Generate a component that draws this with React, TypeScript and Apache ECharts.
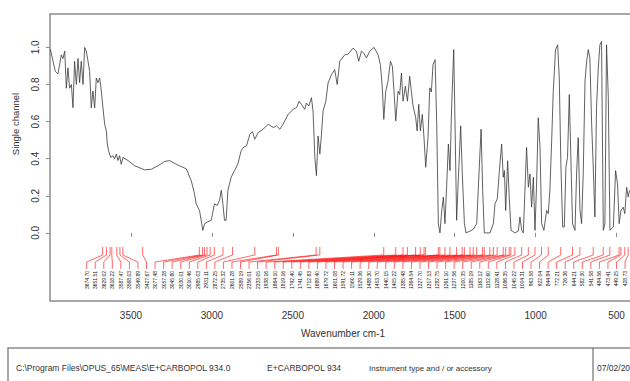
import React, { useEffect, useRef } from "react";
import * as echarts from "echarts";

// Single-channel spectrum, wavenumber (cm-1) and intensity
const spectrumWavenumbers = [
  3998, 3981, 3967, 3951, 3940, 3930, 3920, 3909, 3899, 3889, 3879, 3868, 3858, 3848, 3837, 3827,
  3817, 3807, 3796, 3786, 3776, 3765, 3755, 3745, 3735, 3724, 3714, 3704, 3693, 3683, 3673, 3662,
  3652, 3646, 3638, 3625, 3611, 3601, 3590, 3580, 3570, 3560, 3549, 3518, 3477, 3416, 3374, 3333,
  3292, 3261, 3230, 3200, 3179, 3158, 3127, 3107, 3097, 3076, 3056, 3045, 3025, 3004, 2984, 2967,
  2953, 2942, 2932, 2922, 2912, 2901, 2881, 2860, 2840, 2827, 2819, 2807, 2786, 2765, 2749, 2735,
  2714, 2683, 2652, 2621, 2601, 2580, 2560, 2529, 2498, 2477, 2461, 2447, 2426, 2416, 2401, 2385,
  2375, 2364, 2354, 2344, 2333, 2323, 2313, 2296, 2282, 2261, 2241, 2226, 2210, 2179, 2158, 2128,
  2107, 2093, 2076, 2062, 2045, 2025, 1998, 1973, 1959, 1947, 1938, 1926, 1912, 1897, 1885, 1875,
  1864, 1850, 1840, 1829, 1819, 1805, 1792, 1778, 1768, 1757, 1741, 1732, 1722, 1712, 1700, 1689,
  1679, 1665, 1654, 1644, 1634, 1621, 1611, 1601, 1591, 1580, 1570, 1560, 1549, 1539, 1529, 1519,
  1506, 1498, 1488, 1477, 1463, 1453, 1440, 1430, 1405, 1385, 1364, 1350, 1337, 1327, 1317, 1282,
  1261, 1251, 1237, 1224, 1210, 1200, 1193, 1185, 1173, 1163, 1152, 1128, 1107, 1097, 1086, 1076,
  1066, 1056, 1045, 1035, 1025, 1014, 1004, 994, 984, 973, 963, 949, 932, 922, 912, 901,
  891, 877, 864, 854, 844, 833, 823, 813, 803, 792, 782, 772, 757, 747, 737, 726,
  716, 706, 695, 685, 675, 665, 654, 644, 634, 624, 613, 603, 593, 582, 572, 562,
  551, 541, 520, 506, 494, 484, 473, 459, 449, 438, 428, 420,
];

const spectrumValues = [
  0.99, 0.925, 0.87, 0.857, 0.91, 0.96, 0.94, 0.98, 0.78, 0.89, 0.78, 0.8, 0.675, 0.925, 0.8, 0.94,
  0.81, 0.925, 0.8, 1.0, 0.98, 0.925, 0.87, 0.675, 0.765, 0.675, 0.835, 0.81, 0.835, 0.765, 0.675, 0.585,
  0.55, 0.48, 0.443, 0.407, 0.416, 0.4, 0.425, 0.39, 0.416, 0.37, 0.407, 0.39, 0.362, 0.34, 0.343, 0.362,
  0.385, 0.39, 0.375, 0.362, 0.354, 0.345, 0.28, 0.21, 0.157, 0.12, 0.014, 0.05, 0.06, 0.068, 0.157, 0.148,
  0.175, 0.23, 0.157, 0.068, 0.068, 0.23, 0.3, 0.336, 0.37, 0.416, 0.443, 0.46, 0.47, 0.532, 0.546, 0.505,
  0.541, 0.559, 0.586, 0.568, 0.577, 0.559, 0.586, 0.639, 0.666, 0.675, 0.71, 0.693, 0.666, 0.7, 0.684, 0.729,
  0.657, 0.407, 0.309, 0.523, 0.425, 0.532, 0.657, 0.71, 0.809, 0.854, 0.88, 0.8, 0.925, 0.96, 0.964, 0.996,
  0.979, 0.925, 0.979, 0.97, 0.943, 0.979, 1.0, 0.96, 0.907, 0.782, 0.612, 0.764, 0.818, 0.925, 0.898, 0.764,
  0.604, 0.764, 0.746, 0.862, 0.71, 0.791, 0.71, 0.845, 0.764, 0.684, 0.621, 0.55, 0.693, 0.55, 0.639, 0.505,
  0.354, 0.514, 0.782, 0.76, 0.907, 0.934, 0.586, 0.05, 0.0, 0.121, 0.193, 0.05, 0.264, 0.479, 0.336, 0.675,
  0.988, 0.586, 0.068, 0.3, 0.577, 0.318, 0.05, 0.0, 0.01, 0.02, 0.05, 0.318, 0.559, 0.229, 0.0, 0.0,
  0.05, 0.157, 0.184, 0.336, 0.479, 0.3, 0.336, 0.121, 0.389, 0.193, 0.014, 0.0, 0.01, 0.086, 0.014, 0.0,
  0.229, 0.461, 0.246, 0.318, 0.139, 0.3, 0.014, 0.264, 0.621, 0.461, 0.05, 0.014, 0.121, 0.104, 0.229, 0.496,
  0.764, 0.988, 1.014, 0.836, 0.371, 0.032, 0.032, 0.354, 0.407, 0.746, 0.389, 0.05, 0.014, 0.318, 0.514, 0.121,
  0.05, 0.318, 0.818, 0.925, 0.988, 0.943, 0.586, 0.354, 0.086, 0.675, 0.889, 1.014, 1.032, 0.014, 0.05, 1.014,
  0.729, 0.014, 0.032, 0.336, 0.264, 0.05, 0.121, 0.139, 0.104, 0.246, 0.193, 0.229,
];

// Picked peak positions (cm-1), labelled below the trace
const peakWavenumbers = [
  3674.7, 3651.51, 3629.02, 3618.22, 3587.47, 3568.03, 3549.89, 3427.67,
  3077.48, 3057.28, 3045.8, 3030.01, 3010.46, 2985.03, 2931.11, 2872.25,
  2735.32, 2601.28, 2589.19, 2356.01, 2333.05, 1938.16, 1864.1, 1819.16,
  1792.4, 1741.45, 1712.83, 1689.4, 1679.72, 1601.08, 1591.72, 1560.11,
  1529.36, 1488.3, 1453.7, 1440.15, 1405.22, 1385.48, 1364.54, 1327.7,
  1317.13, 1282.75, 1261.1, 1237.56, 1200.35, 1185.19, 1163.12, 1152.6,
  1128.41, 1086.35, 1045.22, 1004.31, 963.58, 922.04, 844.84, 772.21,
  726.36, 644.21, 582.3, 541.58, 484.56, 473.41, 449.25, 428.73,
];

const xTickValues = [500, 1000, 1500, 2000, 2500, 3000, 3500];
const yTickValues = [0, 0.2, 0.4, 0.6, 0.8, 1.0];

const footerTexts = [
  "C:\\Program Files\\OPUS_65\\MEAS\\E+CARBOPOL 934.0",
  "E+CARBOPOL 934",
  "Instrument type and / or accessory",
  "07/02/2020",
];

const FRAME = "#8c8c8c";
const FONT = "'Liberation Sans', Arial, sans-serif";

// evenly spaced label slots (px)
const LABEL_X0 = 86.7;
const LABEL_STEP = 8.545;

export default function App() {
  const ref = useRef<HTMLDivElement>(null);

  useEffect(() => {
    if (!ref.current) return;
    const chart = echarts.init(ref.current, undefined, { renderer: "svg" });

    const spectrum = spectrumWavenumbers.map((w, i) => [w, spectrumValues[i]]);
    const peaks = peakWavenumbers.map((w, i) => [w, -0.2, i]);

    chart.setOption({
      animation: false,
      textStyle: { fontFamily: FONT },
      grid: {
        left: 50,
        top: 14,
        right: -6,
        bottom: 80,
        show: true,
        borderColor: FRAME,
        borderWidth: 1.5,
        containLabel: false,
        outerBoundsMode: "none",
      },
      xAxis: {
        type: "value",
        min: 380,
        max: 4000,
        inverse: true,
        splitLine: { show: false },
        axisLine: { show: false },
        axisTick: { show: true, customValues: xTickValues, length: 4, lineStyle: { color: FRAME } },
        axisLabel: {
          customValues: xTickValues,
          formatter: (v: number) => String(v),
          fontSize: 10,
          color: "#333",
          margin: 9,
          fontFamily: FONT,
        },
        name: "Wavenumber cm-1",
        nameLocation: "middle",
        nameGap: 27,
        nameTextStyle: { fontSize: 10, color: "#333", fontFamily: FONT },
      },
      yAxis: {
        type: "value",
        min: -0.367,
        max: 1.18,
        splitLine: { show: false },
        axisLine: { show: false },
        axisTick: { show: true, customValues: yTickValues, length: 4, lineStyle: { color: FRAME } },
        axisLabel: {
          customValues: yTickValues,
          formatter: (v: number) => v.toFixed(1),
          rotate: 90,
          fontSize: 10,
          color: "#333",
          margin: 10,
          fontFamily: FONT,
        },
      },
      graphic: [
        {
          type: "text",
          x: 15,
          y: 124,
          rotation: Math.PI / 2,
          style: {
            text: "Single channel",
            fontSize: 9.5,
            fontFamily: FONT,
            fill: "#333",
            align: "center",
            verticalAlign: "middle",
            textAlign: "center",
            textVerticalAlign: "middle",
          },
        },
        {
          type: "rect",
          shape: { x: 8, y: 348, width: 640, height: 60 },
          style: { fill: "none", stroke: FRAME, lineWidth: 1.5 },
        },
        {
          type: "line",
          shape: { x1: 593, y1: 348, x2: 593, y2: 390 },
          style: { stroke: "#555", lineWidth: 1 },
        },
        ...[16, 267, 369, 597].map((x, i) => ({
          type: "text",
          x,
          y: 368,
          style: {
            text: footerTexts[i],
            fontSize: i === 2 ? 8 : 8.5,
            fontFamily: FONT,
            fill: "#333",
            verticalAlign: "middle",
            textVerticalAlign: "middle",
          },
        })),
      ],
      series: [
        {
          type: "line",
          data: spectrum,
          showSymbol: false,
          symbol: "none",
          lineStyle: { color: "#3a3a3a", width: 0.8 },
          clip: true,
        },
        {
          type: "custom",
          data: peaks,
          encode: { x: 0, y: 1 },
          clip: false,
          silent: true,
          renderItem: (params: any, api: any) => {
            const w = api.value(0);
            const idx = api.value(2);
            const px = api.coord([w, 0])[0];
            const yTop = api.coord([w, -0.076])[1];
            const yBend = api.coord([w, -0.119])[1];
            const yStem = api.coord([w, -0.157])[1];
            const yLabel = api.coord([w, -0.194])[1];
            const lx = LABEL_X0 + idx * LABEL_STEP;
            return {
              type: "group",
              children: [
                {
                  type: "polyline",
                  shape: {
                    points: [
                      [px, yTop],
                      [px, yBend],
                      [lx, yStem],
                      [lx, yLabel],
                    ],
                  },
                  style: { stroke: "#ff0000", fill: null, lineWidth: 0.6 },
                },
                {
                  type: "text",
                  x: lx,
                  y: yLabel + 2,
                  rotation: Math.PI / 2,
                  style: {
                    text: Number(w).toFixed(2),
                    fontSize: 5,
                    fontFamily: FONT,
                    fill: "#111",
                    align: "right",
                    verticalAlign: "middle",
                    textAlign: "right",
                    textVerticalAlign: "middle",
                  },
                },
              ],
            };
          },
        },
      ],
    });

    return () => chart.dispose();
  }, []);

  return (
    <div
      ref={ref}
      style={{ position: "fixed", left: 0, top: 0, width: 630, height: 381, background: "#fff" }}
    />
  );
}
